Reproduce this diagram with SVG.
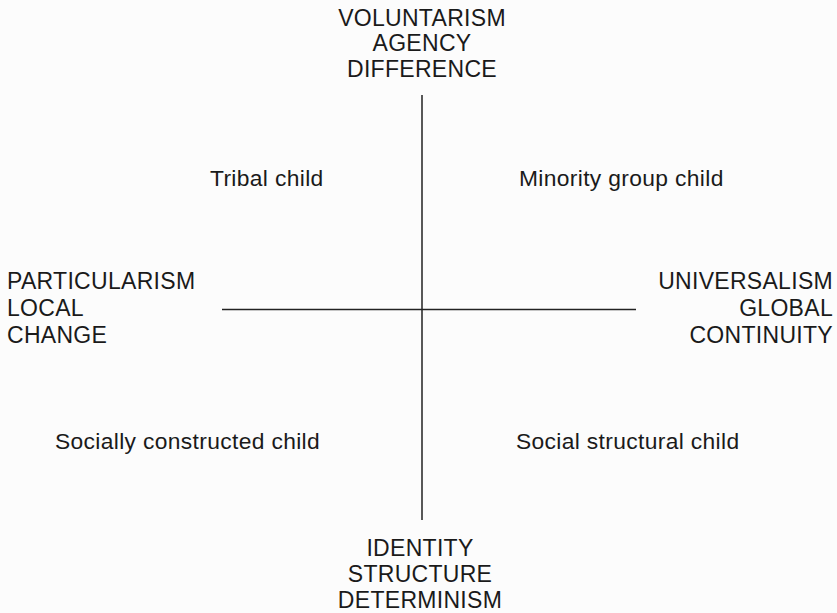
<svg xmlns="http://www.w3.org/2000/svg" width="837" height="613" viewBox="0 0 837 613">
<style>
.h{font-family:"Liberation Sans",Arial,sans-serif;font-size:23px;letter-spacing:0.3px;fill:#1a1a1a}
.q{font-family:"Liberation Sans",Arial,sans-serif;font-size:22.8px;letter-spacing:0.35px;fill:#1a1a1a}
.ax{stroke:#222;stroke-width:1.5;fill:none}
</style>
<rect width="837" height="613" fill="#fcfcfc"/>
<g id="connectors">
<line class="ax" x1="422" y1="95" x2="422" y2="520"/>
<line class="ax" x1="222" y1="309.5" x2="636" y2="309.5"/>
</g>
<g id="top">
<text class="h" text-anchor="middle" x="422" y="26">VOLUNTARISM</text>
<text class="h" text-anchor="middle" x="422" y="51">AGENCY</text>
<text class="h" text-anchor="middle" x="422" y="77">DIFFERENCE</text>
</g>
<g id="left">
<text class="h" x="7" y="289">PARTICULARISM</text>
<text class="h" x="7" y="316">LOCAL</text>
<text class="h" x="7" y="343">CHANGE</text>
</g>
<g id="right">
<text class="h" text-anchor="end" x="833" y="289">UNIVERSALISM</text>
<text class="h" text-anchor="end" x="833" y="316">GLOBAL</text>
<text class="h" text-anchor="end" x="833" y="343">CONTINUITY</text>
</g>
<g id="bottom">
<text class="h" text-anchor="middle" x="420" y="556">IDENTITY</text>
<text class="h" text-anchor="middle" x="420" y="582">STRUCTURE</text>
<text class="h" text-anchor="middle" x="420" y="608">DETERMINISM</text>
</g>
<g id="tribal"><text class="q" x="210" y="186">Tribal child</text></g>
<g id="minority"><text class="q" x="519" y="186">Minority group child</text></g>
<g id="socially"><text class="q" x="55" y="449">Socially constructed child</text></g>
<g id="structural"><text class="q" x="516" y="449">Social structural child</text></g>
</svg>
